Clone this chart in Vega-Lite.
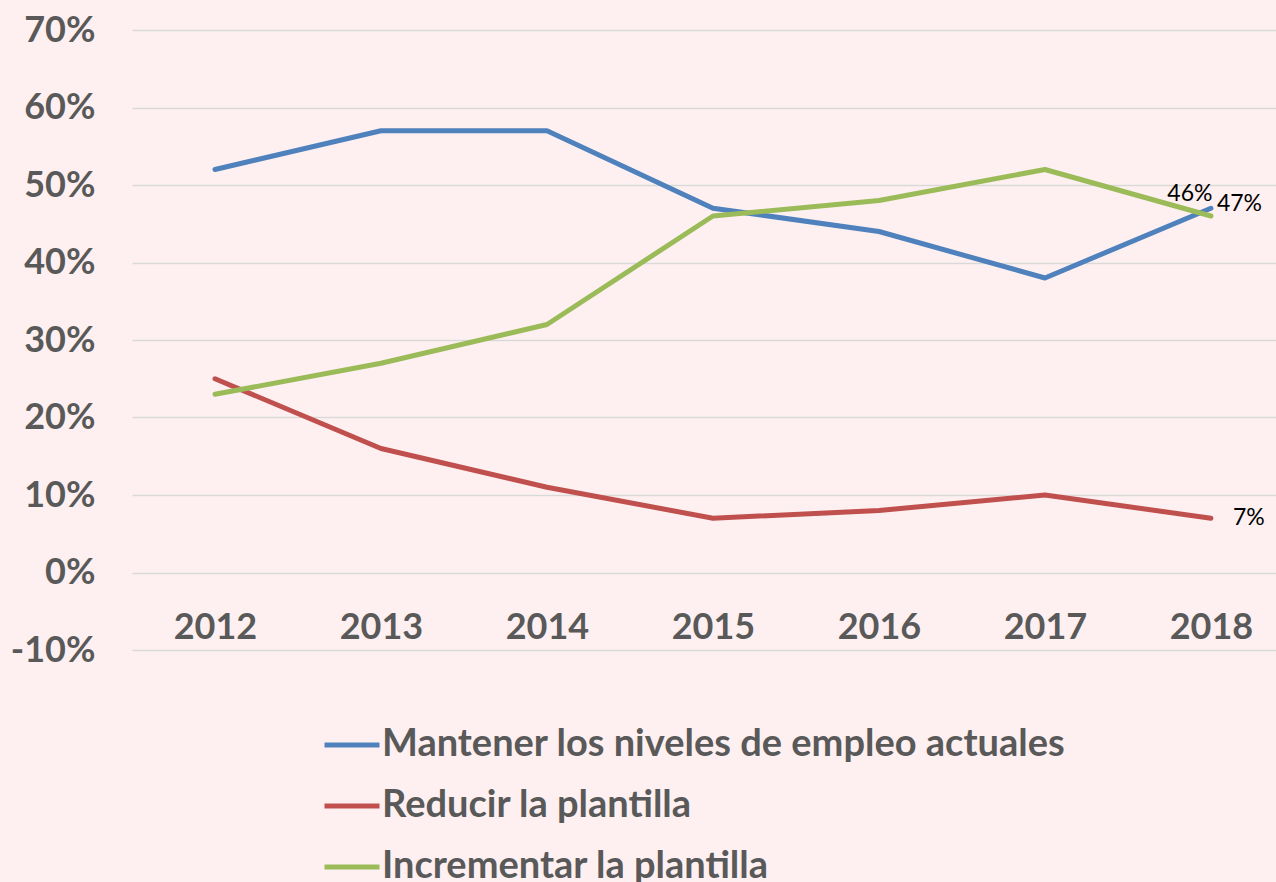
{
  "$schema": "https://vega.github.io/schema/vega-lite/v6.json",
  "autosize": {"type": "none"},
  "width": 1144,
  "height": 620,
  "padding": {"left": 132, "top": 30, "right": 0, "bottom": 232},
  "background": "#FEF0F0",
  "config": {
    "view": {"stroke": null},
    "font": "Lato"
  },
  "data": {
    "values": [
      {"year": 2012, "serie": "Mantener los niveles de empleo actuales", "value": 0.52},
      {"year": 2013, "serie": "Mantener los niveles de empleo actuales", "value": 0.57},
      {"year": 2014, "serie": "Mantener los niveles de empleo actuales", "value": 0.57},
      {"year": 2015, "serie": "Mantener los niveles de empleo actuales", "value": 0.47},
      {"year": 2016, "serie": "Mantener los niveles de empleo actuales", "value": 0.44},
      {"year": 2017, "serie": "Mantener los niveles de empleo actuales", "value": 0.38},
      {"year": 2018, "serie": "Mantener los niveles de empleo actuales", "value": 0.47},
      {"year": 2012, "serie": "Reducir la plantilla", "value": 0.25},
      {"year": 2013, "serie": "Reducir la plantilla", "value": 0.16},
      {"year": 2014, "serie": "Reducir la plantilla", "value": 0.11},
      {"year": 2015, "serie": "Reducir la plantilla", "value": 0.07},
      {"year": 2016, "serie": "Reducir la plantilla", "value": 0.08},
      {"year": 2017, "serie": "Reducir la plantilla", "value": 0.10},
      {"year": 2018, "serie": "Reducir la plantilla", "value": 0.07},
      {"year": 2012, "serie": "Incrementar la plantilla", "value": 0.23},
      {"year": 2013, "serie": "Incrementar la plantilla", "value": 0.27},
      {"year": 2014, "serie": "Incrementar la plantilla", "value": 0.32},
      {"year": 2015, "serie": "Incrementar la plantilla", "value": 0.46},
      {"year": 2016, "serie": "Incrementar la plantilla", "value": 0.48},
      {"year": 2017, "serie": "Incrementar la plantilla", "value": 0.52},
      {"year": 2018, "serie": "Incrementar la plantilla", "value": 0.46}
    ]
  },
  "encoding": {
    "x": {
      "field": "year",
      "type": "quantitative",
      "scale": {"domain": [2011.5, 2018.392], "nice": false, "zero": false},
      "axis": {
        "title": null,
        "values": [2012, 2013, 2014, 2015, 2016, 2017, 2018],
        "format": "d",
        "grid": false,
        "domain": false,
        "ticks": false,
        "offset": -78,
        "labelPadding": 38,
        "labelFontSize": 36,
        "labelFontWeight": "bold",
        "labelColor": "#595959",
        "labelFont": "Lato"
      }
    },
    "y": {
      "field": "value",
      "type": "quantitative",
      "scale": {"domain": [-0.1, 0.7], "nice": false},
      "axis": {
        "title": null,
        "values": [-0.1, 0, 0.1, 0.2, 0.3, 0.4, 0.5, 0.6, 0.7],
        "labelExpr": "(datum.value < 0 ? '-' : '') + format(abs(datum.value), '.0%')",
        "domain": false,
        "ticks": false,
        "gridColor": "#D9D9D9",
        "gridWidth": 1.5,
        "labelPadding": 37,
        "labelFontSize": 36,
        "labelFontWeight": "bold",
        "labelColor": "#595959",
        "labelFont": "Lato"
      }
    }
  },
  "layer": [
    {
      "mark": {"type": "line", "strokeWidth": 5, "strokeCap": "round", "strokeJoin": "round"},
      "encoding": {
        "color": {
          "field": "serie",
          "type": "nominal",
          "scale": {
            "domain": ["Mantener los niveles de empleo actuales", "Reducir la plantilla", "Incrementar la plantilla"],
            "range": ["#4F81BD", "#C0504D", "#9BBB59"]
          },
          "legend": {
            "title": null,
            "orient": "none",
            "legendX": 190,
            "legendY": 685,
            "direction": "vertical",
            "padding": 0,
            "symbolType": "stroke",
            "symbolSize": 3025,
            "symbolStrokeWidth": 5,
            "labelFontSize": 38,
            "labelFontWeight": "bold",
            "labelColor": "#595959",
            "labelFont": "Lato",
            "labelOffset": 0,
            "labelLimit": 1000,
            "rowPadding": 12
          }
        }
      }
    },
    {
      "transform": [{"filter": "datum.year == 2018 && datum.serie == 'Mantener los niveles de empleo actuales'"}],
      "mark": {"type": "text", "align": "left", "baseline": "middle", "dx": 6, "dy": -4, "fontSize": 23, "color": "#000000"},
      "encoding": {"text": {"field": "value", "type": "quantitative", "format": ".0%"}}
    },
    {
      "transform": [{"filter": "datum.year == 2018 && datum.serie == 'Incrementar la plantilla'"}],
      "mark": {"type": "text", "align": "center", "baseline": "middle", "dx": -21, "dy": -22, "fontSize": 23, "color": "#000000"},
      "encoding": {"text": {"field": "value", "type": "quantitative", "format": ".0%"}}
    },
    {
      "transform": [{"filter": "datum.year == 2018 && datum.serie == 'Reducir la plantilla'"}],
      "mark": {"type": "text", "align": "left", "baseline": "middle", "dx": 22, "dy": 0, "fontSize": 23, "color": "#000000"},
      "encoding": {"text": {"field": "value", "type": "quantitative", "format": ".0%"}}
    }
  ]
}
